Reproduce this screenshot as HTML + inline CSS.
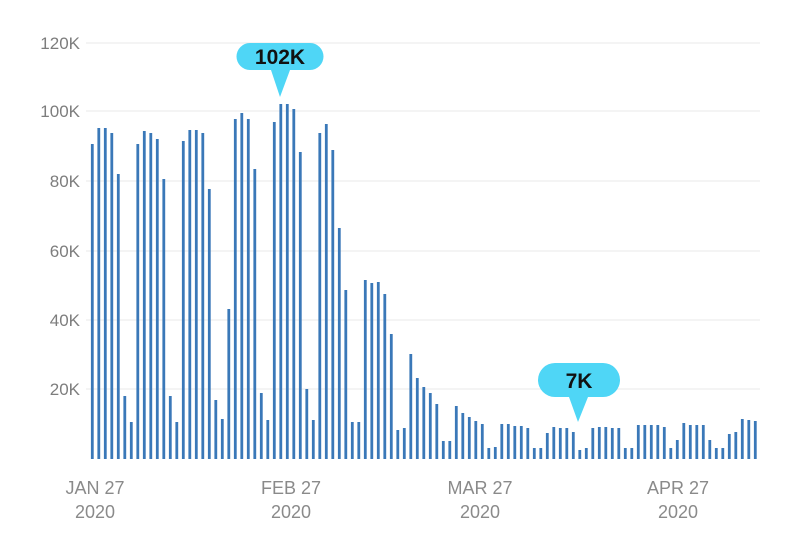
<!DOCTYPE html>
<html><head><meta charset="utf-8"><style>
html,body{margin:0;padding:0;background:#fff;}
svg{display:block;font-family:"Liberation Sans",sans-serif;}
</style></head><body>
<svg id="chart" width="800" height="545" viewBox="0 0 800 545" xmlns="http://www.w3.org/2000/svg">
<g stroke="#e9e9e9" stroke-width="1">
<line x1="86" x2="760" y1="43" y2="43"/><line x1="86" x2="760" y1="111" y2="111"/>
<line x1="86" x2="760" y1="181" y2="181"/><line x1="86" x2="760" y1="251" y2="251"/>
<line x1="86" x2="760" y1="320" y2="320"/><line x1="86" x2="760" y1="389" y2="389"/>
</g>
<g fill="#7d7d7d" font-size="17" text-anchor="end">
<text x="80" y="49">120K</text><text x="80" y="117">100K</text><text x="80" y="187">80K</text>
<text x="80" y="257">60K</text><text x="80" y="326">40K</text><text x="80" y="395">20K</text>
</g>
<g fill="#8a8a8a" font-size="18" text-anchor="middle">
<text x="95" y="494">JAN 27</text><text x="95" y="518">2020</text>
<text x="291" y="494">FEB 27</text><text x="291" y="518">2020</text>
<text x="480" y="494">MAR 27</text><text x="480" y="518">2020</text>
<text x="678" y="494">APR 27</text><text x="678" y="518">2020</text>
</g>
<g id="bars" fill="#3a78b8"></g>
<path d="M250,43 H310 A13.5,13.5 0 0 1 310,70 H290 L280,97 L271,70 H250 A13.5,13.5 0 0 1 250,43 Z" fill="#4fd6f6"/>
<text x="280" y="64" text-anchor="middle" font-size="21" font-weight="bold" fill="#111">102K</text>
<path d="M555,363 H603 A17,17 0 0 1 603,397 H588 L578,422 L569,397 H555 A17,17 0 0 1 555,363 Z" fill="#4fd6f6"/>
<text x="579" y="388" text-anchor="middle" font-size="21" font-weight="bold" fill="#111">7K</text>
</svg>
<script>
(function(){
var t=[144,128,128,133,174,396,422,144,131,133,139,179,396,422,141,130,130,133,189,400,419,309,119,113,119,169,393,420,122,104,104,109,152,389,420,133,124,150,228,290,
422,422,280,283,282,294,334,430,428,354,378,387,393,404,441,441,406,413,417,421,424,448,447,424,424,426,426,428,448,448,433,
427,428,428,432,450,448,428,427,427,428,428,448,448,425,425,425,425,427,448,440,423,425,425,425,440,448,448,434,432,419,420,421];
var ns="http://www.w3.org/2000/svg";
var g=document.getElementById('bars');
for(var i=0;i<t.length;i++){
var r=document.createElementNS(ns,'rect');
r.setAttribute('x',(92.3+i*6.5-1.4).toFixed(1));
r.setAttribute('y',t[i]);
r.setAttribute('width','2.8');
r.setAttribute('height',459-t[i]);
g.appendChild(r);
}
})();
</script>
</body></html>
